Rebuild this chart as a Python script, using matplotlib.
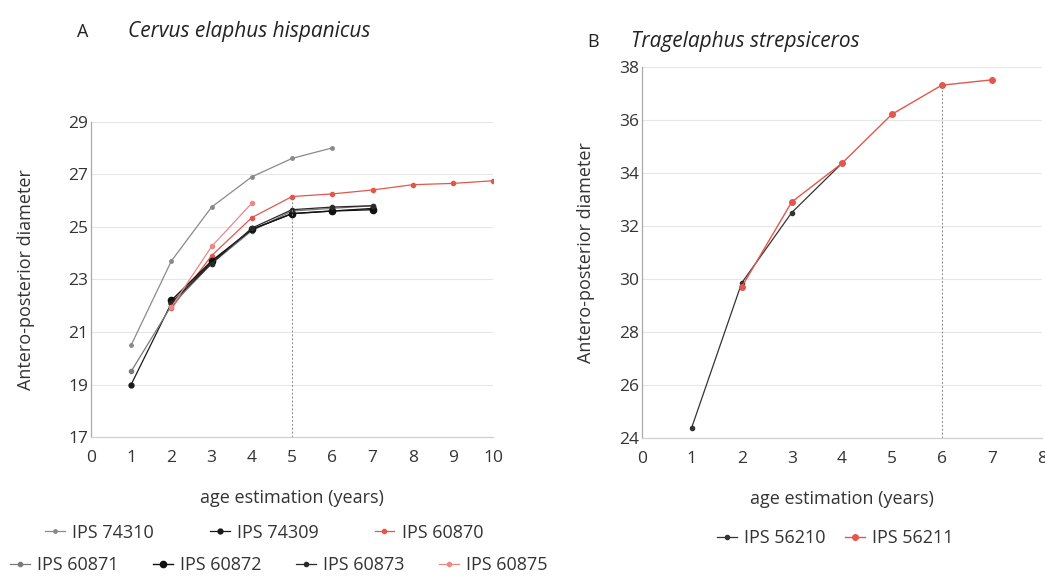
import matplotlib
matplotlib.use("Agg")
import matplotlib.pyplot as plt
from matplotlib.lines import Line2D

plt.rcParams["font.family"] = ["Open Sans", "DejaVu Sans"]

# Panel A: Cervus elaphus hispanicus
A_SERIES = {
    "IPS 74310": ([1, 2, 3, 4, 5, 6], [20.5, 23.7, 25.75, 26.9, 27.6, 28.0]),
    "IPS 74309": ([1, 2, 3, 4, 5, 6, 7], [19.0, 22.1, 23.65, 24.9, 25.5, 25.6, 25.7]),
    "IPS 60870": ([2, 3, 4, 5, 6, 7, 8, 9, 10], [21.9, 23.9, 25.35, 26.15, 26.25, 26.4, 26.6, 26.65, 26.75]),
    "IPS 60871": ([1, 2, 3, 4, 5, 6, 7], [19.5, 22.0, 23.6, 24.85, 25.6, 25.7, 25.8]),
    "IPS 60872": ([2, 3, 4, 5, 6, 7], [22.2, 23.7, 24.9, 25.5, 25.6, 25.65]),
    "IPS 60873": ([2, 3, 4, 5, 6, 7], [22.1, 23.6, 24.95, 25.65, 25.75, 25.8]),
    "IPS 60875": ([2, 3, 4], [21.95, 24.25, 25.9]),
}
A_STYLE = {
    "IPS 74310": dict(color="#8a8a8a", ms=2.5, lw=0.9),
    "IPS 74309": dict(color="#1a1a1a", ms=3.5, lw=0.9),
    "IPS 60870": dict(color="#e2574c", ms=3, lw=0.9),
    "IPS 60871": dict(color="#7a7a7a", ms=3, lw=0.9),
    "IPS 60872": dict(color="#111111", ms=4.5, lw=1.0),
    "IPS 60873": dict(color="#2a2a2a", ms=3, lw=0.9),
    "IPS 60875": dict(color="#e88a86", ms=3, lw=0.9),
}
A_VLINE = (5, 26.15)

# Panel B: Tragelaphus strepsiceros
B_SERIES = {
    "IPS 56210": ([1, 2, 3, 4], [24.4, 29.85, 32.5, 34.35]),
    "IPS 56211": ([2, 3, 4, 5, 6, 7], [29.7, 32.9, 34.35, 36.2, 37.3, 37.5]),
}
B_STYLE = {
    "IPS 56210": dict(color="#333333", ms=3, lw=0.9),
    "IPS 56211": dict(color="#e2574c", ms=4, lw=1.0),
}
B_VLINE = (6, 37.3)

fig = plt.figure(figsize=(10.45, 5.79), dpi=100)
axA = fig.add_axes([0.087, 0.245, 0.385, 0.545])
axB = fig.add_axes([0.614, 0.243, 0.383, 0.642])


def style_axis(ax, xlim, ylim, yticks, xticks, ylab_x, xlab_y):
    ax.set_xlim(*xlim)
    ax.set_ylim(*ylim)
    ax.set_xticks(xticks)
    ax.set_yticks(yticks)
    for s in ("top", "right"):
        ax.spines[s].set_visible(False)
    ax.spines["left"].set_color("#aaaaaa")
    ax.spines["bottom"].set_color("#d0d0d0")
    ax.spines["left"].set_linewidth(0.9)
    ax.spines["bottom"].set_linewidth(0.9)
    ax.grid(axis="y", color="#e6e6e6", lw=0.8)
    ax.set_axisbelow(True)
    ax.tick_params(length=0, labelsize=12.5, labelcolor="#333333")
    ax.tick_params(axis="x", pad=9)
    ax.tick_params(axis="y", pad=2)
    ax.set_ylabel("Antero-posterior diameter", fontsize=13, color="#333333")
    ax.set_xlabel("age estimation (years)", fontsize=13, color="#333333")
    ax.yaxis.set_label_coords(ylab_x, 0.5)
    ax.xaxis.set_label_coords(0.5, xlab_y)


style_axis(axA, (0, 10), (17, 29), range(17, 30, 2), range(0, 11), -0.139, -0.165)
style_axis(axB, (0, 8), (24, 38), range(24, 39, 2), range(0, 9), -0.117, -0.138)

for name, (x, y) in A_SERIES.items():
    st = A_STYLE[name]
    axA.plot(x, y, marker="o", color=st["color"], ms=st["ms"], lw=st["lw"], label=name)
axA.plot([A_VLINE[0]] * 2, [17, A_VLINE[1]], ls=(0, (2, 2)), color="#888888", lw=0.7)

for name, (x, y) in B_SERIES.items():
    st = B_STYLE[name]
    axB.plot(x, y, marker="o", color=st["color"], ms=st["ms"], lw=st["lw"], label=name)
axB.plot([B_VLINE[0]] * 2, [24, B_VLINE[1]], ls=(0, (2, 2)), color="#888888", lw=0.7)

fig.text(0.0737, 0.945, "A", fontsize=13, va="center", color="#222222")
fig.text(0.1225, 0.945, "Cervus elaphus hispanicus", fontsize=15, style="italic",
         va="center", color="#222222")
fig.text(0.562, 0.928, "B", fontsize=13, va="center", color="#222222")
fig.text(0.604, 0.928, "Tragelaphus strepsiceros", fontsize=15, style="italic",
         va="center", color="#222222")


def handles(names, styles):
    return [Line2D([], [], marker="o", color=styles[n]["color"], ms=styles[n]["ms"],
                   lw=styles[n]["lw"]) for n in names]


names = list(A_SERIES)
row1, row2 = names[:3], names[3:]
leg_kw = dict(frameon=False, fontsize=13, handlelength=1.1, handletextpad=0.4,
              labelcolor="#333333", borderpad=0, borderaxespad=0)
fig.legend(handles(row1, A_STYLE), row1, loc="center left",
           bbox_to_anchor=(0.043, 0.08), ncol=3, columnspacing=3.1, **leg_kw)
fig.legend(handles(row2, A_STYLE), row2, loc="center left",
           bbox_to_anchor=(0.0096, 0.024), ncol=4, columnspacing=1.9, **leg_kw)
fig.legend(handles(list(B_SERIES), B_STYLE), list(B_SERIES), loc="center left",
           bbox_to_anchor=(0.686, 0.07), ncol=2, columnspacing=1.1, **leg_kw)

fig.savefig("out.png", dpi=100)
